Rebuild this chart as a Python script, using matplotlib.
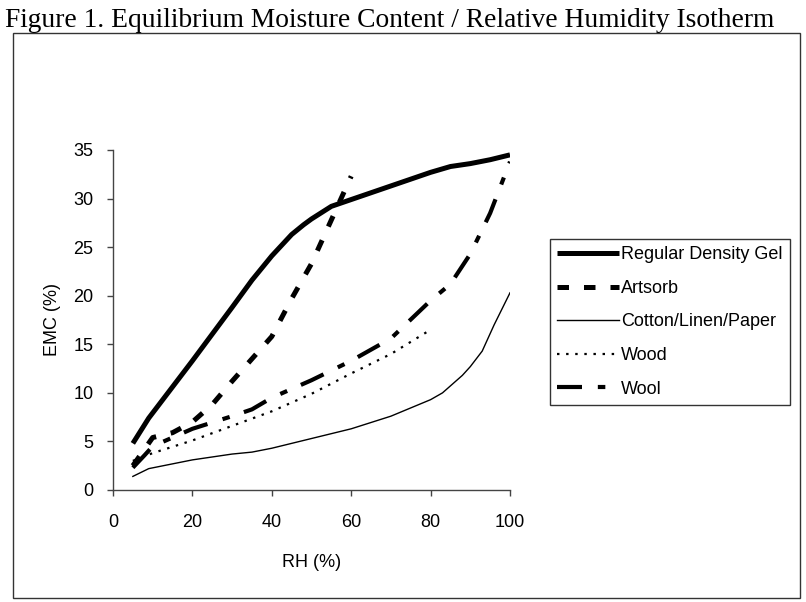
import matplotlib
matplotlib.use("Agg")
import matplotlib.pyplot as plt
from matplotlib.patches import Rectangle

# ---- data ----
gel_x = [5, 9, 20, 30, 35, 40, 45, 48, 50, 55, 60, 65, 70, 75, 80, 85, 90, 95, 100]
gel_y = [4.8, 7.4, 13.3, 18.8, 21.6, 24.1, 26.3, 27.3, 27.9, 29.2, 29.9, 30.6, 31.3, 32.0, 32.7, 33.3, 33.6, 34.0, 34.5]

art_x = [5, 10, 15, 20, 25, 30, 35, 40, 45, 50, 55, 60]
art_y = [2.5, 5.4, 5.9, 7.0, 8.8, 11.2, 13.5, 15.8, 19.7, 23.3, 27.8, 32.3]

cot_x = [5, 9, 20, 30, 35, 40, 50, 60, 70, 80, 83, 88, 90, 93, 96, 100]
cot_y = [1.4, 2.2, 3.1, 3.7, 3.9, 4.3, 5.3, 6.3, 7.6, 9.3, 10.0, 11.8, 12.7, 14.3, 17.0, 20.3]

wood_x = [5, 10, 20, 30, 40, 50, 60, 70, 80]
wood_y = [3.0, 3.8, 5.1, 6.6, 8.1, 9.9, 12.0, 14.0, 16.5]

wool_x = [5, 8, 10, 20, 30, 35, 40, 50, 60, 70, 80, 85, 90, 95, 100]
wool_y = [2.3, 3.6, 4.5, 6.3, 7.6, 8.3, 9.5, 11.3, 13.3, 15.6, 19.5, 21.2, 24.3, 28.5, 33.8]

labels = ["Regular Density Gel", "Artsorb", "Cotton/Linen/Paper", "Wood", "Wool"]
x_ticks = [0, 20, 40, 60, 80, 100]
y_ticks = [0, 5, 10, 15, 20, 25, 30, 35]
title = "Figure 1. Equilibrium Moisture Content / Relative Humidity Isotherm"

W, H = 806, 602
fig = plt.figure(figsize=(W / 100, H / 100), dpi=100)
fig.patch.set_facecolor("white")

sans = ["Liberation Sans", "DejaVu Sans"]
fs = 13

# outer frame
fig.patches.append(Rectangle((13 / W, 1 - 598 / H), (800 - 13) / W, (598 - 33) / H,
                             transform=fig.transFigure, fill=False,
                             edgecolor="#333333", linewidth=1.0))

fig.text(5 / W, 1 - 27 / H, title, family=["Liberation Serif", "DejaVu Serif"],
         fontsize=19.8, ha="left", va="baseline")

ax = fig.add_axes([113 / W, 1 - 490 / H, (510 - 113) / W, (490 - 150) / H])
axc = "#444444"
l1, = ax.plot(gel_x, gel_y, color="black", lw=3.6, solid_capstyle="butt")
l2, = ax.plot(art_x, art_y, color="black", lw=3.6, linestyle=(0, (2.3, 3.0)))
l3, = ax.plot(cot_x, cot_y, color="black", lw=1.0)
l4, = ax.plot(wood_x, wood_y, color="black", lw=1.6, linestyle=(0, (1.1, 3.0)))
l5, = ax.plot(wool_x, wool_y, color="black", lw=3.0, linestyle=(0, (6.0, 3.8, 1.8, 3.6)))

ax.set_xlim(0, 100)
ax.set_ylim(0, 35)
ax.set_xticks(x_ticks)
ax.set_yticks(y_ticks)
for s in ["top", "right"]:
    ax.spines[s].set_visible(False)
for s in ["left", "bottom"]:
    ax.spines[s].set_color(axc)
    ax.spines[s].set_linewidth(1.0)
ax.tick_params(direction="out", length=4.5, width=1.0, color=axc, labelsize=fs)
ax.tick_params(axis="x", pad=13)
ax.tick_params(axis="y", pad=9.5)
for lab in ax.get_xticklabels() + ax.get_yticklabels():
    lab.set_family(sans)
ax.set_xlabel("RH (%)", family=sans, fontsize=fs, labelpad=16)
ax.set_ylabel("EMC (%)", family=sans, fontsize=fs, labelpad=9)

leg = ax.legend([l1, l2, l3, l4, l5], labels, loc="upper left",
                bbox_to_anchor=(550 / W, 1 - 239 / H), bbox_transform=fig.transFigure,
                borderaxespad=0, frameon=True, fancybox=False, shadow=False,
                edgecolor="black", handlelength=3.4, handletextpad=0.15,
                labelspacing=0.92, borderpad=0.4, prop={"family": sans, "size": fs})
leg.get_frame().set_linewidth(1.0)

fig.savefig("out.png", dpi=100, facecolor="white")
